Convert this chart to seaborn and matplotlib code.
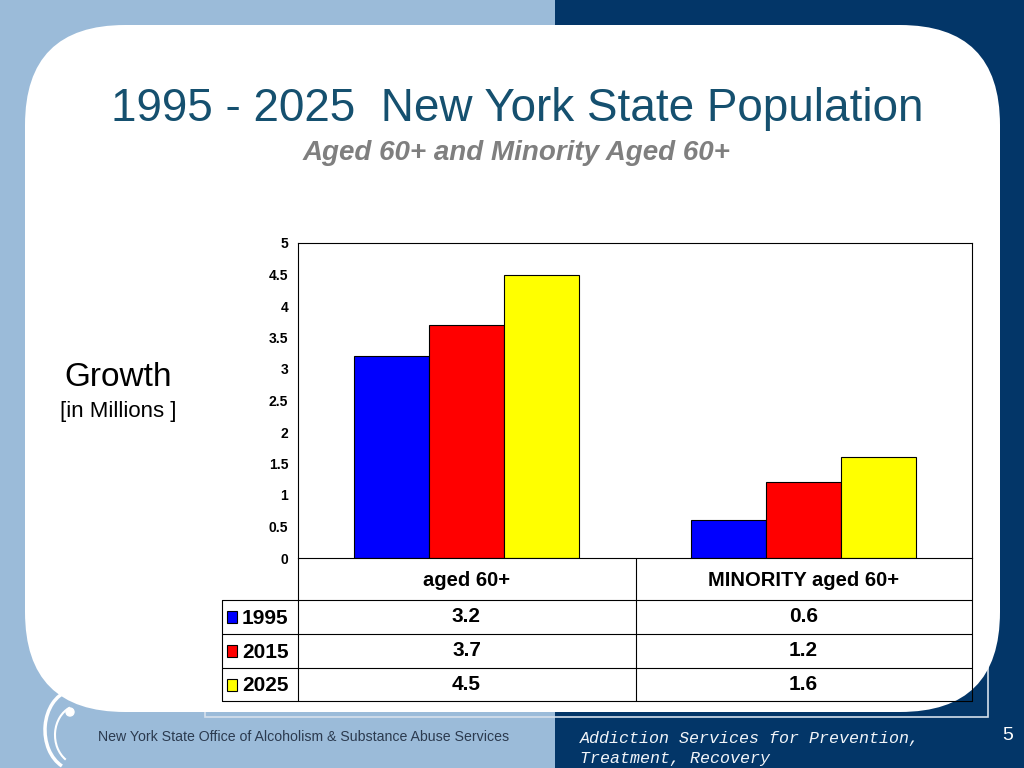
import numpy as np
import pandas as pd
import matplotlib
matplotlib.use('Agg')
import matplotlib.pyplot as plt
from matplotlib.patches import Rectangle, FancyBboxPatch, Arc, Circle
import seaborn as sns

# Datos
categories = ['aged 60+', 'MINORITY aged 60+']
years = ['1995', '2015', '2025']
pop_1995 = [3.2, 0.6]
pop_2015 = [3.7, 1.2]
pop_2025 = [4.5, 1.6]
year_colors = ['#0000FF', '#FF0000', '#FFFF00']
y_ticks = [0, 0.5, 1, 1.5, 2, 2.5, 3, 3.5, 4, 4.5, 5]
y_tick_labels = ['0', '0.5', '1', '1.5', '2', '2.5', '3', '3.5', '4', '4.5', '5']

series = [pop_1995, pop_2015, pop_2025]
df = pd.DataFrame({
    'category': categories * len(years),
    'year': np.repeat(years, len(categories)),
    'value': pop_1995 + pop_2015 + pop_2025,
})

sns.set_theme(style='white')
plt.rcParams['font.family'] = ['Liberation Sans', 'DejaVu Sans']
plt.rcParams['text.color'] = 'black'

LIGHT = '#9BBBD9'
NAVY = '#033668'

fig = plt.figure(figsize=(10.24, 7.68), dpi=100)

# Fondo de la diapositiva (coordenadas en pixeles)
bg = fig.add_axes([0, 0, 1, 1], zorder=0)
bg.set_xlim(0, 1024)
bg.set_ylim(768, 0)
bg.axis('off')
bg.add_patch(Rectangle((0, 0), 555, 768, color=LIGHT, lw=0))
bg.add_patch(Rectangle((555, 0), 469, 768, color=NAVY, lw=0))
bg.add_patch(Rectangle((205, 215), 783, 502, fill=False, ec='#D5E0EC', lw=1.2))
bg.add_patch(FancyBboxPatch((25, 25), 975, 687,
                            boxstyle='round,pad=0,rounding_size=100',
                            fc='white', ec='none', zorder=2))

# Logo simple
bg.add_patch(Arc((75, 730), 60, 80, theta1=110, theta2=260, color='white', lw=2.5, zorder=3))
bg.add_patch(Arc((80, 735), 50, 60, theta1=120, theta2=250, color='white', lw=1.5, zorder=3))
bg.add_patch(Circle((70, 712), 4, color='white', zorder=3))

# Titulos
bg.text(517, 109, '1995 - 2025  New York State Population', ha='center', va='center',
        fontsize=33, color='#15506F', zorder=4)
bg.text(517, 153, 'Aged 60+ and Minority Aged 60+', ha='center', va='center',
        fontsize=20, fontweight='bold', fontstyle='italic', color='#7F7F7F', zorder=4)
bg.text(118, 377, 'Growth', ha='center', va='center', fontsize=24, color='black', zorder=4)
bg.text(118, 412, '[in Millions ]', ha='center', va='center', fontsize=16, color='black', zorder=4)

# Grafico de barras
ax = fig.add_axes([298 / 1024, (768 - 558) / 768, 674 / 1024, 315 / 768], zorder=2)
ax.set_facecolor('white')
sns.barplot(data=df, x='category', y='value', hue='year', palette=year_colors,
            width=0.667, gap=0, edgecolor='black', linewidth=0.8, saturation=1,
            legend=False, ax=ax)
ax.set_xlim(-0.5, len(categories) - 0.5)
ax.set_ylim(0, 5)
ax.set_yticks(y_ticks)
ax.set_yticklabels(y_tick_labels, fontsize=10, fontweight='bold', color='black')
ax.set_xticks([])
ax.set_xlabel('')
ax.set_ylabel('')
for sp in ax.spines.values():
    sp.set_visible(True)
    sp.set_color('black')
    sp.set_linewidth(0.8)
ax.tick_params(axis='y', direction='out', length=5, width=0.8, pad=2, colors='black')

# Tabla de datos bajo el grafico
lc = dict(color='black', lw=0.8, zorder=4)
x_left, x_key, x_right = 222, 298, 972
row_edges = [558, 600, 634, 668, 701]
col_div = 636
for y in row_edges[1:]:
    bg.plot([x_left, x_right], [y, y], **lc)
bg.plot([x_key, x_key], [row_edges[0], row_edges[-1]], **lc)
bg.plot([col_div, col_div], [row_edges[0], row_edges[-1]], **lc)
bg.plot([x_right, x_right], [row_edges[0], row_edges[-1]], **lc)
bg.plot([x_left, x_left], [row_edges[1], row_edges[-1]], **lc)

col_centers = [ax.transData.transform((i, 0))[0] for i in range(len(categories))]
head_y = (row_edges[0] + row_edges[1]) / 2 + 1
for cx, cat in zip(col_centers, categories):
    bg.text(cx, head_y, cat, ha='center', va='center', fontsize=14.5,
            fontweight='bold', color='black', zorder=4)

for r, (yr, col, vals) in enumerate(zip(years, year_colors, series)):
    yc = (row_edges[r + 1] + row_edges[r + 2]) / 2
    bg.add_patch(Rectangle((227, yc - 6), 10, 12, fc=col, ec='black', lw=0.8, zorder=4))
    bg.text(242, yc + 1, yr, ha='left', va='center', fontsize=15, fontweight='bold',
            color='black', zorder=4)
    for cx, v in zip(col_centers, vals):
        bg.text(cx, yc, f'{v:.1f}', ha='center', va='center', fontsize=15,
                fontweight='bold', color='black', zorder=4)

# Pie de pagina
bg.text(98, 737, 'New York State Office of Alcoholism & Substance Abuse Services',
        ha='left', va='center', fontsize=10.2, color='#2B3A4F', zorder=4)
bg.text(580, 739, 'Addiction Services for Prevention,', ha='left', va='center',
        fontsize=12, family='Liberation Mono', fontstyle='italic', color='#F2F5F9', zorder=4)
bg.text(580, 758, 'Treatment, Recovery', ha='left', va='center',
        fontsize=12, family='Liberation Mono', fontstyle='italic', color='#F2F5F9', zorder=4)
bg.text(1008, 735, '5', ha='center', va='center', fontsize=14, color='white', zorder=4)

fig.savefig('out.png', dpi=100)
